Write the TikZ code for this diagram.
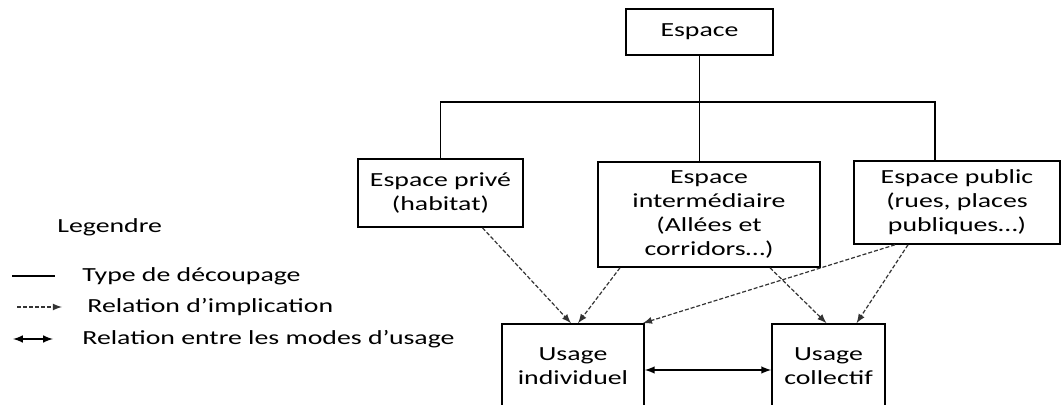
\documentclass[tikz,border=0pt]{standalone}
\usepackage{fontspec}
\setmainfont{Carlito}[FakeStretch=1.39]
\usetikzlibrary{positioning}

\begin{document}
\begin{tikzpicture}[x=0.5pt, y=-0.5pt,
    box/.style={draw, line width=0.8pt, align=center, inner sep=0pt},
    legend/.style={anchor=west, inner sep=0pt},
    decoupe/.style={line width=0.8pt},
    implique/.style={->, >=latex, dash pattern=on 2pt off 1pt,
                     line width=0.6pt, draw=black!80},
    usages/.style={<->, >=latex, line width=0.7pt}]
    \useasboundingbox (0,0) rectangle (1061,405);
    % Add the spaces
    \node[box,
          minimum width=73.5pt,
          minimum height=23pt] (espace) at (699.5,32) {Espace};
    \node[box,
          minimum width=82.5pt,
          minimum height=34pt] (prive) at (440.5,193) {Espace privé\\(habitat)};
    \node[box,
          minimum width=111pt,
          minimum height=52.5pt] (inter) at (709,214.5)
          {Espace\\intermédiaire\\(Allées et\\corridors…)};
    \node[box,
          minimum width=103pt,
          minimum height=41.5pt] (public) at (957,202.5)
          {Espace public\\(rues, places\\publiques…)};
    % Add the usages
    \node[box,
          minimum width=71pt,
          minimum height=42pt] (individuel) at (573,366) {Usage\\individuel};
    \node[box,
          minimum width=56.5pt,
          minimum height=42pt] (collectif) at (828.5,366) {Usage\\collectif};
    % Add the legend
    \node[legend] (legende) at (57,227) {Legendre};
    \node[legend] (decoupage) at (82,276) {Type de découpage};
    \node[legend] (implication) at (87,307) {Relation d’implication};
    \node[legend] (modes) at (82,339) {Relation entre les modes d’usage};
    % Connect the spaces
    \coordinate (jonction) at (696,102);
    \draw[decoupe] (espace.south) -- (espace.south |- inter.north);
    \draw[decoupe] (prive.north) |- ([xshift=-11pt]public.north |- jonction)
        -- ([xshift=-11pt]public.north);
    % Connect the spaces with the usages
    \draw[implique] ([xshift=21pt]prive.south) -- ([xshift=-1pt]individuel.north);
    \draw[implique] ([xshift=-44.5pt]inter.south) -- ([xshift=2.5pt]individuel.north);
    \draw[implique] ([xshift=-31pt]public.south) -- ([xshift=-1pt]individuel.north east);
    \draw[implique] ([xshift=30.5pt]inter.south) -- ([xshift=-1pt]collectif.north);
    \draw[implique] ([xshift=-24.5pt]public.south) -- ([xshift=14pt]collectif.north);
    \draw[usages] ([yshift=-2pt]individuel.east) -- ([yshift=-2pt]collectif.west);
    % Legend samples
    \draw[line width=0.6pt] ([xshift=-35pt]decoupage.west) -- ([xshift=-13.5pt]decoupage.west);
    \draw[implique] ([xshift=-35pt]implication.west) -- ([xshift=-12.5pt]implication.west);
    \draw[usages] ([xshift=-34.5pt]modes.west) -- ([xshift=-14.5pt]modes.west);
\end{tikzpicture}
\end{document}
